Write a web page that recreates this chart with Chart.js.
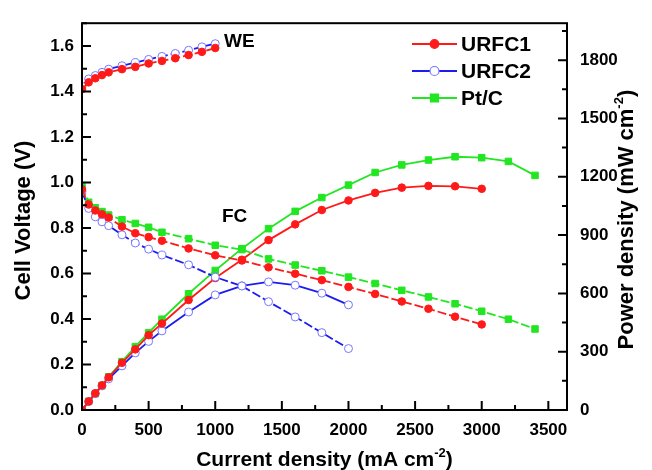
<!DOCTYPE html>
<html>
<head>
<meta charset="utf-8">
<script src="https://cdn.jsdelivr.net/npm/chart.js@4.4.1/dist/chart.umd.min.js"></script>
<style>
html, body { margin: 0; padding: 0; background: #fff; }
</style>
</head>
<body>
<canvas id="graphCanvas" width="652" height="470"></canvas>
<script>
// current density (mA cm-2)
var currents = [0, 50, 100, 150, 200, 300, 400, 500, 600, 800, 1000, 1200, 1400, 1600, 1800, 2000, 2200, 2400, 2600, 2800, 3000, 3200, 3400];
var weCurrents = [0, 50, 100, 150, 200, 300, 400, 500, 600, 700, 800, 900, 1000];

// fuel cell mode, cell voltage (V)
var urfc1Voltage = [0.97, 0.903, 0.877, 0.86, 0.846, 0.806, 0.777, 0.76, 0.744, 0.71, 0.68, 0.657, 0.627, 0.599, 0.571, 0.541, 0.51, 0.477, 0.445, 0.41, 0.376];
var urfc2Voltage = [0.96, 0.886, 0.849, 0.827, 0.81, 0.77, 0.734, 0.707, 0.681, 0.638, 0.584, 0.545, 0.476, 0.409, 0.34, 0.27];
var ptcVoltage = [0.982, 0.913, 0.889, 0.872, 0.857, 0.836, 0.82, 0.803, 0.781, 0.753, 0.724, 0.705, 0.664, 0.637, 0.612, 0.584, 0.556, 0.526, 0.497, 0.467, 0.434, 0.399, 0.356];

// fuel cell mode, power density (mW cm-2)
var urfc1Power = [0, 44, 86, 127, 168, 243, 312, 385, 445, 566, 679, 773, 874, 955, 1029, 1078, 1117, 1144, 1153, 1151, 1138];
var urfc2Power = [0, 43, 84, 124, 160, 227, 294, 353, 407, 504, 592, 639, 659, 642, 601, 541];
var ptcPower = [0, 45, 84, 126, 171, 249, 326, 398, 467, 598, 718, 830, 933, 1022, 1093, 1157, 1222, 1261, 1286, 1303, 1298, 1279, 1207];

// water electrolysis mode, cell voltage (V)
var urfc1WE = [1.41, 1.44, 1.458, 1.472, 1.484, 1.498, 1.508, 1.523, 1.534, 1.546, 1.56, 1.574, 1.591];
var urfc2WE = [1.422, 1.455, 1.47, 1.484, 1.498, 1.513, 1.527, 1.541, 1.554, 1.567, 1.581, 1.596, 1.61];

var FONT = '"Liberation Sans", Arial, sans-serif';
var RED = '#ff1a1a', BLUE = '#1c1cf0', BLUE_PT = '#7777ff', GREEN = '#22e622';

function pts(xs, ys) {
    var out = [];
    for (var i = 0; i < ys.length; i++) {
        out.push({ x: xs[i], y: ys[i] });
    }
    return out;
}

function series(label, data, axis, color, style, dashed) {
    var ds = {
        label: label,
        data: data,
        yAxisID: axis,
        borderColor: color,
        backgroundColor: color,
        borderWidth: 1.8,
        pointRadius: 3.8,
        pointHoverRadius: 3.8,
        pointStyle: 'circle',
        pointBorderWidth: 1,
        pointBorderColor: color,
        tension: 0
    };
    if (style == 'rect') {
        ds.pointStyle = 'rect';
        ds.pointRadius = 4.6;
        ds.pointHoverRadius = 4.6;
    }
    if (style == 'open') {
        ds.backgroundColor = '#ffffff';
        ds.pointBorderColor = BLUE_PT;
        ds.pointRadius = 4;
        ds.pointHoverRadius = 4;
    }
    if (dashed) ds.borderDash = [9, 3];
    return ds;
}

var datasets = [
    series('URFC1', pts(weCurrents, urfc1WE), 'y', RED, 'dot', true),
    series('URFC2', pts(weCurrents, urfc2WE), 'y', BLUE, 'open', true),
    series('URFC1', pts(currents, urfc1Voltage), 'y', RED, 'dot', true),
    series('URFC2', pts(currents, urfc2Voltage), 'y', BLUE, 'open', true),
    series('Pt/C', pts(currents, ptcVoltage), 'y', GREEN, 'rect', true),
    series('URFC1', pts(currents, urfc1Power), 'y1', RED, 'dot', false),
    series('URFC2', pts(currents, urfc2Power), 'y1', BLUE, 'open', false),
    series('Pt/C', pts(currents, ptcPower), 'y1', GREEN, 'rect', false)
];

function text(ctx, str, x, y, size, align) {
    ctx.font = 'bold ' + size + 'px ' + FONT;
    ctx.textAlign = align || 'left';
    ctx.fillText(str, x, y);
}

// title text with a superscript "-2" before the closing bracket
function supTitle(ctx, main, x, y, size) {
    var sup = '-2', tail = ')';
    ctx.font = 'bold ' + size + 'px ' + FONT;
    var w1 = ctx.measureText(main).width;
    var w3 = ctx.measureText(tail).width;
    ctx.font = 'bold ' + Math.round(size * 0.6) + 'px ' + FONT;
    var w2 = ctx.measureText(sup).width;
    var x0 = x - (w1 + w2 + w3) / 2;
    ctx.textAlign = 'left';
    ctx.font = 'bold ' + size + 'px ' + FONT;
    ctx.fillText(main, x0, y);
    ctx.fillText(tail, x0 + w1 + w2, y);
    ctx.font = 'bold ' + Math.round(size * 0.6) + 'px ' + FONT;
    ctx.fillText(sup, x0 + w1, y - size * 0.45);
}

var decorations = {
    id: 'decorations',
    afterDatasetsDraw: function (chart) {
        var ctx = chart.ctx, a = chart.chartArea;
        var sx = chart.scales.x, sy = chart.scales.y, sy1 = chart.scales.y1;
        ctx.save();
        ctx.strokeStyle = '#000';
        ctx.fillStyle = '#000';
        ctx.lineWidth = 2;
        ctx.strokeRect(a.left, a.top, a.right - a.left, a.bottom - a.top);

        // inward tick marks
        ctx.beginPath();
        sx.ticks.forEach(function (t) {
            var p = sx.getPixelForValue(t.value);
            var len = t.value % 500 === 0 ? 9 : 5;
            ctx.moveTo(p, a.bottom);
            ctx.lineTo(p, a.bottom - len);
        });
        sy.ticks.forEach(function (t) {
            var p = sy.getPixelForValue(t.value);
            var len = Math.round(t.value * 10) % 2 === 0 ? 9 : 5;
            ctx.moveTo(a.left, p);
            ctx.lineTo(a.left + len, p);
        });
        sy1.ticks.forEach(function (t) {
            var p = sy1.getPixelForValue(t.value);
            var len = t.value % 300 === 0 ? 9 : 5;
            ctx.moveTo(a.right, p);
            ctx.lineTo(a.right - len, p);
        });
        ctx.stroke();

        // annotations
        ctx.textBaseline = 'middle';
        text(ctx, 'WE', 224, 42, 19);
        text(ctx, 'FC', 222, 217, 19);

        // legend
        var rows = [
            { label: 'URFC1', ds: datasets[2], y: 44 },
            { label: 'URFC2', ds: datasets[3], y: 71 },
            { label: 'Pt/C', ds: datasets[4], y: 98 }
        ];
        rows.forEach(function (r) {
            ctx.strokeStyle = r.ds.borderColor;
            ctx.lineWidth = 2;
            ctx.beginPath();
            ctx.moveTo(412, r.y);
            ctx.lineTo(457, r.y);
            ctx.stroke();
            ctx.fillStyle = r.ds.backgroundColor;
            ctx.strokeStyle = r.ds.pointBorderColor;
            ctx.lineWidth = 1.2;
            ctx.beginPath();
            if (r.ds.pointStyle == 'rect') {
                ctx.rect(434.5 - 4, r.y - 4, 8, 8);
            } else {
                ctx.arc(434.5, r.y, r.ds.pointRadius + 0.5, 0, Math.PI * 2);
            }
            ctx.fill();
            ctx.stroke();
            ctx.fillStyle = '#000';
            text(ctx, r.label, 461, r.y + 1, 21);
        });

        // axis titles
        ctx.textBaseline = 'alphabetic';
        var midY = (a.top + a.bottom) / 2;
        supTitle(ctx, 'Current density (mA cm', (a.left + a.right) / 2, 466, 21);

        ctx.save();
        ctx.translate(30, midY + 4);
        ctx.rotate(-Math.PI / 2);
        text(ctx, 'Cell Voltage (V)', 0, 0, 22, 'center');
        ctx.restore();

        ctx.save();
        ctx.translate(633, midY + 3);
        ctx.rotate(-Math.PI / 2);
        supTitle(ctx, 'Power density (mW cm', 0, 0, 22);
        ctx.restore();

        ctx.restore();
    }
};

var tickFont = { family: FONT, size: 17, weight: 'bold' };

var graphTarget = document.getElementById('graphCanvas');
var chart = new Chart(graphTarget, {
    type: 'line',
    data: { datasets: datasets },
    plugins: [decorations],
    options: {
        responsive: false,
        animation: false,
        events: [],
        layout: { padding: { top: 15, left: 0, right: 0, bottom: 0 } },
        plugins: {
            legend: { display: false },
            tooltip: { enabled: false }
        },
        scales: {
            x: {
                type: 'linear',
                min: 0,
                max: 3640,
                grid: { display: false, drawTicks: false },
                border: { display: false },
                ticks: {
                    stepSize: 250,
                    includeBounds: false,
                    autoSkip: false,
                    maxRotation: 0,
                    padding: 10,
                    color: '#000',
                    font: tickFont,
                    callback: function (v) { return v % 500 === 0 ? String(v) : ''; }
                },
                afterFit: function (s) { s.height = 60; }
            },
            y: {
                position: 'left',
                min: 0,
                max: 1.7,
                grid: { display: false, drawTicks: false },
                border: { display: false },
                ticks: {
                    stepSize: 0.1,
                    includeBounds: false,
                    autoSkip: false,
                    padding: 8,
                    color: '#000',
                    font: tickFont,
                    callback: function (v) { return Math.round(v * 10) % 2 === 0 ? v.toFixed(1) : ''; }
                },
                afterFit: function (s) { s.width = 82; }
            },
            y1: {
                position: 'right',
                min: 0,
                max: 1990,
                grid: { display: false, drawTicks: false },
                border: { display: false },
                ticks: {
                    stepSize: 150,
                    includeBounds: false,
                    autoSkip: false,
                    padding: 13,
                    color: '#000',
                    font: tickFont,
                    callback: function (v) { return v % 300 === 0 ? String(v) : ''; }
                },
                afterFit: function (s) { s.width = 85; }
            }
        }
    }
});
</script>
</body>
</html>
